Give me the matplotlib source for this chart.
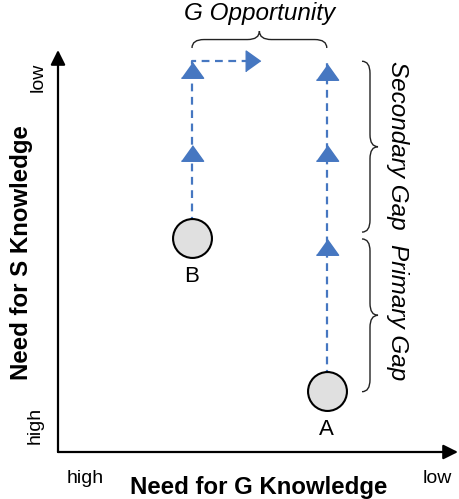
import matplotlib.pyplot as plt
from matplotlib.path import Path
from matplotlib.patches import PathPatch

# data units: Need for G on x (0..10), Need for S on y (0..10)
firm_names = ["A", "B"]
firm_x = [6.72, 3.35]
firm_y = [1.52, 5.32]

# dashed paths (B climbs then turns right, A climbs all the way)
path_b_x = [3.35, 3.35, 4.75]
path_b_y = [5.32, 9.72, 9.72]
path_a_x = [6.72, 6.72]
path_a_y = [1.52, 9.68]

# triangle arrow markers along the paths
tri_x = [3.35, 3.35, 6.72, 6.72, 6.72]
tri_y = [9.50, 7.45, 9.45, 7.44, 5.10]
opp_tip = (4.88, 9.72)

top_level = 9.72
brace_x = 7.6

blue = "#4677c1"
plt.rcParams["font.family"] = ["Liberation Sans", "DejaVu Sans"]

fig = plt.figure(figsize=(4.6, 4.99), dpi=100)
ax = fig.add_axes([58 / 460, 47 / 499, 400 / 460, 402 / 499])
ax.set_xlim(0, 10)
ax.set_ylim(0, 10)
ax.axis("off")


def brace(ax, p0, p1, h, r, vertical=False):
    # curly brace from p0 to p1 (along one axis), bulging by h
    a0, a1, b = p0, p1, h[0]
    hh = h[1]
    m = (a0 + a1) / 2
    s = 1 if a1 > a0 else -1
    pts = [(a0, b), (a0, b + hh / 2), (a0 + s * r, b + hh / 2),
           (m - s * r, b + hh / 2), (m, b + hh / 2), (m, b + hh),
           (m, b + hh / 2), (m + s * r, b + hh / 2),
           (a1 - s * r, b + hh / 2), (a1, b + hh / 2), (a1, b)]
    codes = [Path.MOVETO, Path.CURVE3, Path.CURVE3, Path.LINETO, Path.CURVE3, Path.CURVE3,
             Path.CURVE3, Path.CURVE3, Path.LINETO, Path.CURVE3, Path.CURVE3]
    if vertical:
        pts = [(q, p) for p, q in pts]
    ax.add_patch(PathPatch(Path(pts, codes), fill=False, lw=1.0, color="#222222",
                           clip_on=False))


# axes arrows
ax.annotate("", xy=(10, 0), xytext=(0, 0), annotation_clip=False,
            arrowprops=dict(arrowstyle="-|>", lw=1.6, color="black", mutation_scale=22,
                            shrinkA=0, shrinkB=0))
ax.annotate("", xy=(0, 10), xytext=(0, 0), annotation_clip=False,
            arrowprops=dict(arrowstyle="-|>", lw=1.6, color="black", mutation_scale=22,
                            shrinkA=0, shrinkB=0))

# dashed paths
ax.plot(path_b_x, path_b_y, ls=(0, (3.5, 2.5)), lw=1.6, color=blue, clip_on=False)
ax.plot(path_a_x, path_a_y, ls=(0, (3.5, 2.5)), lw=1.6, color=blue, clip_on=False)

tri = [(-1, -0.7), (1, -0.7), (0, 0.7)]
ax.plot(tri_x, tri_y, ls="none", marker=tri, ms=16, color=blue, clip_on=False)
ax.plot([opp_tip[0]], [opp_tip[1]], ls="none", marker=[(-0.7, -1), (-0.7, 1), (0.7, 0)],
        ms=15, color=blue, clip_on=False)

# firms
ax.plot(firm_x, firm_y, ls="none", marker="o", ms=28, mfc="#e0e0e0", mec="black",
        mew=1.5, zorder=5)
for name, x, y in zip(firm_names, firm_x, firm_y):
    ax.text(x, y - 0.95, name, ha="center", va="center", fontsize=16)

# braces
brace(ax, firm_x[1], firm_x[0], (10.05, 0.42), 0.3)
ax.text((firm_x[0] + firm_x[1]) / 2, 10.9, "G Opportunity", ha="center", va="center",
        fontsize=17.5, style="italic", clip_on=False)

brace(ax, top_level, firm_y[1] + 0.15, (brace_x, 0.4), 0.3, vertical=True)
brace(ax, firm_y[1] - 0.02, firm_y[0] - 0.02, (brace_x, 0.4), 0.3, vertical=True)
ax.text(8.48, (top_level + firm_y[1]) / 2 + 0.1, "Secondary Gap", ha="center", va="center",
        rotation=-90, fontsize=17.5, style="italic")
ax.text(8.48, (firm_y[1] + firm_y[0]) / 2 + 0.05, "Primary Gap", ha="center", va="center",
        rotation=-90, fontsize=17.5, style="italic")

# axis labels
ax.text(5.02, -0.88, "Need for G Knowledge", ha="center", va="center", fontsize=17.3,
        fontweight="bold", clip_on=False)
ax.text(0.68, -0.65, "high", ha="center", va="center", fontsize=14, clip_on=False)
ax.text(9.48, -0.65, "low", ha="center", va="center", fontsize=14, clip_on=False)
ax.text(-0.92, 4.97, "Need for S Knowledge", ha="center", va="center", fontsize=17.3,
        fontweight="bold", rotation=90, clip_on=False)
ax.text(-0.5, 9.33, "low", ha="center", va="center", fontsize=14, rotation=90, clip_on=False)
ax.text(-0.58, 0.67, "high", ha="center", va="center", fontsize=14, rotation=90,
        clip_on=False)

fig.savefig("out.png", dpi=100)
